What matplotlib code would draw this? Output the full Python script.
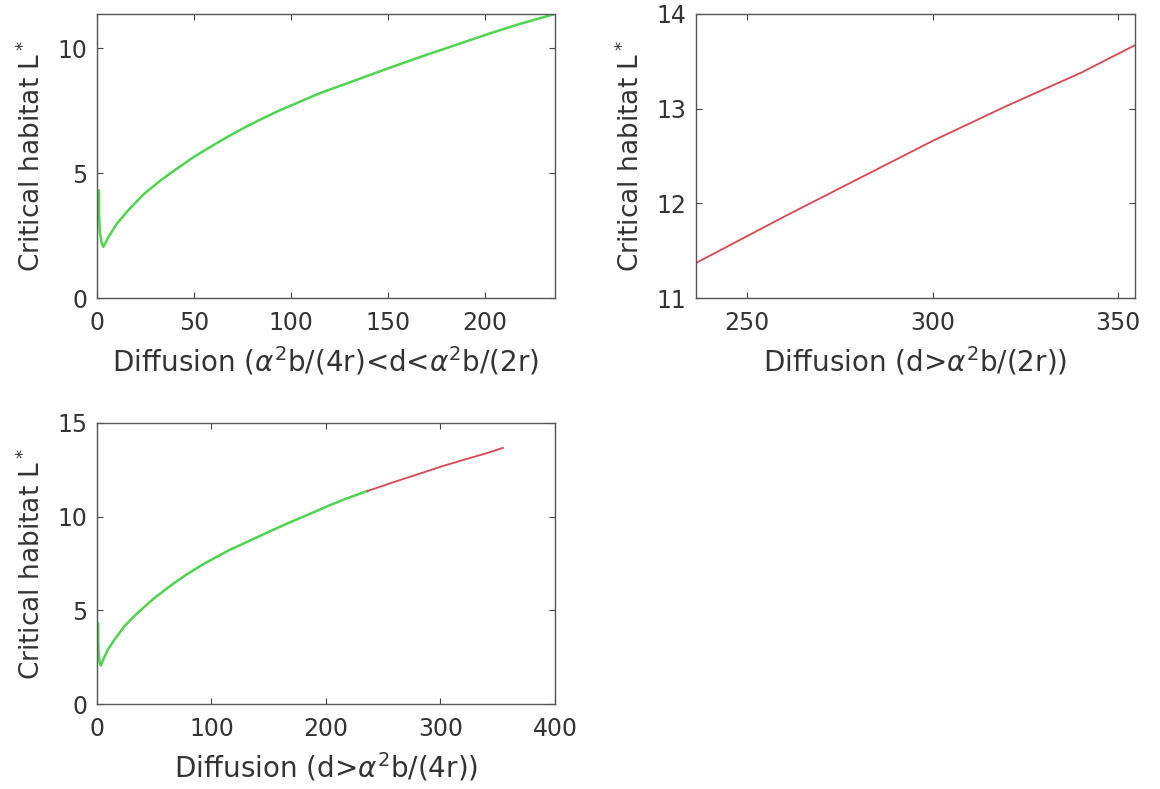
import numpy as np
import matplotlib
matplotlib.use("Agg")
import matplotlib.pyplot as plt

# critical habitat
d_green = [1.0, 1.1, 1.5, 2.5, 3.3, 6, 10, 16, 24, 33, 42, 50, 60, 68, 77, 85,
           93, 102, 115, 132, 149, 166, 184, 201, 218, 236.2]
L_green = [4.3, 3.3, 2.6, 2.2, 2.05, 2.45, 2.95, 3.5, 4.15, 4.72, 5.22, 5.65,
           6.12, 6.48, 6.86, 7.17, 7.47, 7.77, 8.2, 8.68, 9.16, 9.63, 10.1,
           10.55, 10.97, 11.37]
d_red = [236.2, 260, 280, 300, 320, 340, 354.5]
L_red = [11.37, 11.86, 12.26, 12.66, 13.03, 13.38, 13.67]

green = '#4fd44f'
red = '#d8474f'
ylab = 'Critical habitat L$^*$'
txt = '#333333'

plt.rcParams['font.family'] = 'DejaVu Sans'
plt.rcParams['mathtext.fontset'] = 'dejavusans'

fig = plt.figure(figsize=(11.6, 7.89), dpi=100)

def style(ax, xlab):
    ax.tick_params(direction='in', top=True, right=True, length=4,
                   width=0.8, labelsize=17, color='#444444',
                   labelcolor=txt)
    ax.tick_params(axis='x', pad=9)
    ax.tick_params(axis='y', pad=7)
    for s in ax.spines.values():
        s.set_color('#555555')
        s.set_linewidth(1.0)
    ax.set_ylabel(ylab, fontsize=19, color=txt, labelpad=8)
    ax.set_xlabel(xlab, fontsize=20, color=txt, labelpad=7)

ax1 = fig.add_axes([0.0836, 0.6223, 0.3948, 0.36])
ax1.plot(d_green, L_green, color=green, lw=1.8)
ax1.set_xlim(0, 236.2)
ax1.set_ylim(0, 11.37)
ax1.set_xticks([0, 50, 100, 150, 200])
ax1.set_yticks([0, 5, 10])
style(ax1, r'Diffusion ($\alpha^2$b/(4r)<d<$\alpha^2$b/(2r)')

ax2 = fig.add_axes([0.6, 0.6223, 0.3784, 0.36])
ax2.plot(d_red, L_red, color=red, lw=1.3)
ax2.set_xlim(236.2, 354.5)
ax2.set_ylim(11, 14)
ax2.set_xticks([250, 300, 350])
ax2.set_yticks([11, 12, 13, 14])
style(ax2, r'Diffusion (d>$\alpha^2$b/(2r))')

ax3 = fig.add_axes([0.0836, 0.1077, 0.3948, 0.3562])
ax3.plot(d_green, L_green, color=green, lw=1.8)
ax3.plot(d_red, L_red, color=red, lw=1.3)
ax3.set_xlim(0, 400)
ax3.set_ylim(0, 15)
ax3.set_xticks([0, 100, 200, 300, 400])
ax3.set_yticks([0, 5, 10, 15])
style(ax3, r'Diffusion (d>$\alpha^2$b/(4r))')

fig.savefig('out.png', dpi=100)
